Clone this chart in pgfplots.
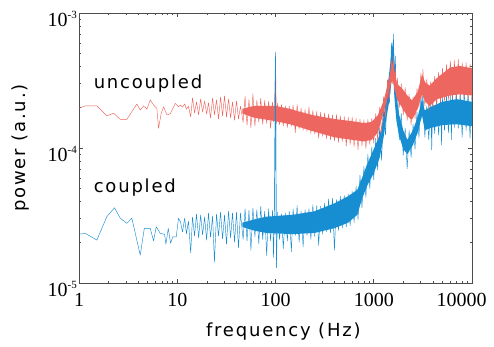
\documentclass[border=0pt]{standalone}
\usepackage{fontspec}
\setmainfont{Liberation Serif}
\newfontfamily\labfont[LetterSpace=10]{DejaVu Sans}
\usepackage{pgfplots}
\pgfplotsset{compat=1.18}
\definecolor{redc}{RGB}{237,102,96}
\definecolor{bluec}{RGB}{24,142,210}
\newcommand\tp[1]{10\raisebox{7.6pt}{\fontsize{11}{11}\selectfont #1}}
\begin{document}
\begin{tikzpicture}
\begin{axis}[name=ax,
  scale only axis, width=393pt, height=270pt,
  xmode=log, ymode=log,
  xmin=1, xmax=10000, ymin=1e-5, ymax=1e-3,
  xtick={1,10,100,1000,10000},
  xticklabels={1,10,100,1000,\makebox[0pt]{\hspace*{-21pt}10000}},
  ytick={1e-5,1e-4,1e-3},
  yticklabels={\tp{-5},\tp{-4},\tp{-3}},
  tick align=inside,
  major tick length=4pt, minor tick length=2.5pt,
  axis line style={black!70, line width=0.8pt},
  every tick/.style={black!70, line width=0.6pt},
  xticklabel style={font=\fontsize{20}{24}\selectfont, inner ysep=0pt, yshift=-10pt},
  yticklabel style={font=\fontsize{20}{24}\selectfont, inner ysep=0pt, inner xsep=2pt, yshift=-6pt},
  xlabel={frequency (Hz)}, ylabel={power (a.u.)},
  xlabel style={font=\fontsize{18}{20}\labfont, at={(axis description cs:0.52,-0.181)}, anchor=center},
  ylabel style={font=\fontsize{18}{20}\labfont, at={(axis description cs:-0.149,0.5)}, anchor=center},
  clip=true,
  every axis plot/.append style={line join=round},
]
% blue trace
\addplot[bluec, line width=0.45pt] coordinates {
(1.0,2.30e-5)(1.16,2.33e-5)(1.52,2.08e-5)(1.92,3.10e-5)(2.30,3.61e-5)(2.63,3.02e-5)(3.07,2.77e-5)(3.45,3.02e-5)(4.20,1.61e-5)(4.62,2.54e-5)(5.31,2.54e-5)(5.74,2.05e-5)(6.11,2.61e-5)(6.72,2.33e-5)(7.43,2.30e-5)(7.66,1.94e-5)(8.10,2.54e-5)(8.55,1.97e-5)(9.02,2.20e-5)(9.77,2.20e-5)(10.3,3.02e-5)
(10.8,2.83e-5)(11.3,2.39e-5)(11.9,3.03e-5)(12.4,2.31e-5)(13.0,2.88e-5)(13.7,1.67e-5)(14.3,3.08e-5)(15.0,2.23e-5)(15.7,3.24e-5)(16.5,2.16e-5)(17.3,3.19e-5)(18.1,2.27e-5)(19.0,3.08e-5)(19.9,2.08e-5)(20.8,3.30e-5)(21.8,2.19e-5)(22.9,3.13e-5)(23.9,1.43e-5)(25.1,3.24e-5)(26.3,2.23e-5)(27.6,3.35e-5)(28.9,2.12e-5)(30.3,3.19e-5)(31.7,1.94e-5)(33.3,3.41e-5)(34.9,2.16e-5)(36.5,3.30e-5)(38.3,2.01e-5)(40.1,3.35e-5)(42.0,1.82e-5)(44.0,3.30e-5)
(46.8,2.10e-5)(49.0,3.55e-5)(51.3,2.05e-5)(53.7,3.45e-5)(56.2,1.75e-5)(58.9,3.60e-5)(61.7,2.20e-5)(64.6,3.50e-5)(67.6,1.95e-5)(70.8,3.70e-5)(74.1,2.10e-5)(77.6,3.40e-5)(81.3,1.60e-5)(85.1,3.55e-5)(89.1,2.05e-5)(93.3,3.45e-5)(95.5,1.55e-5)(97.7,3.35e-5)(100,5.13e-4)(102,1.30e-5)
(105,3.35e-5)(110,2.10e-5)(115,3.25e-5)(120,1.80e-5)(126,3.30e-5)(132,2.05e-5)(138,3.40e-5)(145,1.70e-5)(151,3.55e-5)(159,2.25e-5)(166,3.75e-5)(174,2.00e-5)(182,3.40e-5)(191,1.85e-5)(200,3.50e-5)(209,2.25e-5)(219,3.55e-5)(229,2.10e-5)(240,3.80e-5)(251,2.20e-5)(263,3.75e-5)(275,1.90e-5)(288,3.70e-5)(302,2.30e-5)(316,3.90e-5)(331,2.40e-5)(347,4.20e-5)(363,2.35e-5)(380,4.25e-5)(398,1.75e-5)(417,4.15e-5)(437,2.45e-5)(457,4.40e-5)(479,2.55e-5)(501,4.45e-5)(525,2.60e-5)(550,4.55e-5)(575,2.65e-5)(603,4.80e-5)(631,2.80e-5)(661,5.20e-5)(692,2.95e-5)(724,6.30e-5)(759,3.60e-5)(794,7.30e-5)(832,4.30e-5)(871,9.00e-5)(912,5.00e-5)(955,10.2e-5)
(1000,5.80e-5)(1047,11.8e-5)(1096,6.90e-5)(1148,14.2e-5)(1202,8.10e-5)(1259,19.5e-5)(1318,12.5e-5)(1380,32.0e-5)(1445,21.5e-5)(1514,60.0e-5)(1549,33.0e-5)(1585,70.0e-5)(1622,30.0e-5)(1660,48.0e-5)(1698,19.0e-5)(1738,30.0e-5)(1820,11.5e-5)(1905,18.0e-5)(1995,8.80e-5)(2089,14.0e-5)(2188,7.00e-5)(2291,13.5e-5)(2399,8.50e-5)(2512,15.0e-5)(2630,9.80e-5)(2754,18.5e-5)(2884,12.0e-5)(3020,24.0e-5)(3090,16.5e-5)(3162,26.0e-5)(3311,12.0e-5)(3467,20.5e-5)(3631,11.5e-5)(3802,22.0e-5)(3890,9.70e-5)(3981,22.5e-5)(4169,12.8e-5)(4365,24.0e-5)(4571,12.5e-5)(4786,24.5e-5)(4898,10.5e-5)(5012,24.0e-5)(5248,13.5e-5)(5495,24.5e-5)(5754,13.0e-5)(6026,25.0e-5)(6166,11.5e-5)(6310,26.0e-5)(6607,14.2e-5)(6918,26.5e-5)(7244,14.0e-5)(7586,26.0e-5)(7943,12.0e-5)(8318,27.0e-5)(8710,13.5e-5)(9120,26.0e-5)(9550,11.8e-5)(10000,24.0e-5)
};
% blue core band
\addplot[draw=none, fill=bluec] coordinates {
(46,2.8e-5)(60,2.95e-5)(80,3.1e-5)(150,3.2e-5)(250,3.4e-5)(400,3.9e-5)(550,4.4e-5)(680,4.9e-5)(760,6.0e-5)(850,7.5e-5)(1000,9.8e-5)(1150,12.5e-5)(1260,17e-5)(1350,25e-5)(1450,38e-5)(1520,52e-5)(1575,62e-5)(1620,45e-5)(1700,25e-5)(1800,18e-5)(2000,13.5e-5)(2200,11.5e-5)(2500,13.5e-5)(2800,17e-5)(3100,23e-5)(3300,19e-5)(3700,20e-5)(5000,22e-5)(7000,23e-5)(10000,22e-5)
(10000,14.5e-5)(7000,15e-5)(5000,14.8e-5)(3700,14e-5)(3300,13.5e-5)(3100,17.5e-5)(2800,13e-5)(2500,10.5e-5)(2200,9e-5)(2000,9.8e-5)(1800,12.5e-5)(1700,16e-5)(1620,24e-5)(1575,36e-5)(1520,32e-5)(1450,23e-5)(1350,17e-5)(1260,12e-5)(1150,8.5e-5)(1000,6.5e-5)(850,5.2e-5)(760,4.2e-5)(680,3.2e-5)(550,2.8e-5)(400,2.55e-5)(250,2.35e-5)(150,2.3e-5)(80,2.35e-5)(60,2.45e-5)(46,2.6e-5)
};
% red trace
\addplot[redc, line width=0.45pt] coordinates {
(1.0,1.97e-4)(1.16,2.05e-4)(1.52,2.05e-4)(1.92,1.73e-4)(2.25,1.81e-4)(2.63,1.63e-4)(3.07,1.63e-4)(3.88,2.12e-4)(4.2,1.91e-4)(4.54,2.05e-4)(4.91,1.94e-4)(5.31,2.27e-4)(5.74,2.08e-4)(6.2,1.97e-4)(6.45,1.40e-4)(6.87,1.81e-4)(7.26,2.02e-4)(7.84,1.76e-4)(8.48,1.79e-4)(9.55,2.14e-4)(10.3,2.02e-4)
(10.8,2.08e-4)(11.3,2.01e-4)(11.9,2.12e-4)(12.4,1.94e-4)(13.0,2.04e-4)(13.7,1.70e-4)(14.3,2.35e-4)(15.0,1.82e-4)(15.7,2.19e-4)(16.5,1.76e-4)(17.3,2.31e-4)(18.1,1.85e-4)(19.0,2.23e-4)(19.9,1.79e-4)(20.8,2.16e-4)(21.8,1.67e-4)(22.9,2.35e-4)(23.9,1.76e-4)(25.1,2.27e-4)(26.3,1.64e-4)(27.6,2.39e-4)(28.9,1.73e-4)(30.3,2.43e-4)(31.7,1.70e-4)(33.3,2.31e-4)(34.9,1.67e-4)(36.5,2.19e-4)(38.3,1.61e-4)(40.1,2.23e-4)(42.0,1.64e-4)(44.0,2.04e-4)
(46.8,1.55e-4)(49.0,2.41e-4)(51.3,1.48e-4)(53.7,2.28e-4)(56.2,1.41e-4)(58.9,2.52e-4)(61.7,1.45e-4)(64.6,2.26e-4)(67.6,1.55e-4)(70.8,2.34e-4)(74.1,1.50e-4)(77.6,2.25e-4)(81.3,1.52e-4)(85.1,2.22e-4)(89.1,1.40e-4)(93.3,2.19e-4)(95.5,1.56e-4)(97.7,2.12e-4)(100,4.89e-4)(102,1.52e-4)
(105,2.15e-4)(110,1.49e-4)(115,2.10e-4)(120,1.46e-4)(126,2.05e-4)(132,1.42e-4)(138,2.04e-4)(145,1.45e-4)(151,2.08e-4)(159,1.30e-4)(166,2.10e-4)(174,1.38e-4)(182,1.98e-4)(191,1.35e-4)(200,1.93e-4)(209,1.33e-4)(219,2.02e-4)(229,1.28e-4)(240,1.90e-4)(251,1.27e-4)(263,1.87e-4)(275,1.18e-4)(288,1.84e-4)(302,1.22e-4)(316,1.82e-4)(331,1.17e-4)(347,1.79e-4)(363,1.15e-4)(380,1.76e-4)(398,1.13e-4)(417,1.77e-4)(437,1.10e-4)(457,1.73e-4)(479,1.12e-4)(501,1.71e-4)(525,1.03e-4)(550,1.69e-4)(575,1.06e-4)(603,1.70e-4)(631,1.02e-4)(661,1.66e-4)(692,0.97e-4)(724,1.64e-4)(759,1.04e-4)(794,1.62e-4)(832,0.99e-4)(871,1.63e-4)(912,1.06e-4)(955,1.66e-4)
(1000,1.08e-4)(1047,1.80e-4)(1096,1.14e-4)(1148,2.00e-4)(1202,1.28e-4)(1259,2.40e-4)(1318,1.70e-4)(1380,3.20e-4)(1445,2.30e-4)(1514,4.40e-4)(1549,3.00e-4)(1585,4.75e-4)(1622,2.70e-4)(1660,3.90e-4)(1698,2.45e-4)(1738,3.30e-4)(1820,2.00e-4)(1905,3.00e-4)(1995,1.75e-4)(2089,2.80e-4)(2188,1.60e-4)(2291,2.50e-4)(2399,1.48e-4)(2512,2.40e-4)(2630,1.65e-4)(2754,2.75e-4)(2884,2.00e-4)(3020,3.60e-4)(3090,2.30e-4)(3162,3.85e-4)(3311,2.05e-4)(3467,3.25e-4)(3631,1.90e-4)(3802,3.10e-4)(3981,2.00e-4)(4169,3.40e-4)(4365,2.10e-4)(4571,3.65e-4)(4786,2.20e-4)(5012,3.90e-4)(5248,2.25e-4)(5495,4.15e-4)(5754,2.28e-4)(6026,4.40e-4)(6310,2.32e-4)(6607,4.45e-4)(6918,2.35e-4)(7244,4.55e-4)(7586,2.38e-4)(7943,4.30e-4)(8318,2.35e-4)(8710,4.30e-4)(9120,2.32e-4)(9550,4.20e-4)(10000,2.27e-4)
};
% red core band
\addplot[draw=none, fill=redc] coordinates {
(46,1.95e-4)(60,2.05e-4)(100,2.05e-4)(140,1.95e-4)(180,1.85e-4)(250,1.74e-4)(400,1.64e-4)(600,1.58e-4)(800,1.53e-4)(950,1.56e-4)(1100,1.75e-4)(1250,2.2e-4)(1380,2.9e-4)(1480,3.7e-4)(1560,4.3e-4)(1620,3.7e-4)(1720,3.0e-4)(1950,2.75e-4)(2200,2.45e-4)(2450,2.25e-4)(2800,2.6e-4)(3100,3.5e-4)(3350,3.05e-4)(3700,2.9e-4)(4400,3.3e-4)(6000,3.95e-4)(7500,4.05e-4)(10000,3.9e-4)
(10000,2.45e-4)(7500,2.5e-4)(6000,2.45e-4)(4400,2.3e-4)(3700,2.05e-4)(3350,2.2e-4)(3100,2.5e-4)(2800,1.95e-4)(2450,1.62e-4)(2200,1.72e-4)(1950,1.98e-4)(1720,2.3e-4)(1620,2.8e-4)(1560,3.2e-4)(1480,2.95e-4)(1380,2.35e-4)(1250,1.8e-4)(1100,1.3e-4)(950,1.15e-4)(800,1.12e-4)(600,1.15e-4)(400,1.2e-4)(250,1.32e-4)(180,1.42e-4)(140,1.5e-4)(100,1.58e-4)(60,1.68e-4)(46,1.8e-4)
};
% blue 100 Hz line on top
\addplot[bluec, line width=0.45pt] coordinates {(97.7,3.35e-5)(100,5.13e-4)(102,1.30e-5)};
\node[anchor=base west, inner sep=0pt, font=\fontsize{18}{20}\labfont] at (axis cs:1.408,2.78e-4) {uncoupled};
\node[anchor=base west, inner sep=0pt, font=\fontsize{18}{20}\labfont] at (axis cs:1.408,4.72e-5) {coupled};
\end{axis}
\pgfresetboundingbox
\path[use as bounding box] (ax.south west) ++(-79pt,-64pt) rectangle ++(494pt,347pt);
\end{tikzpicture}
\end{document}
